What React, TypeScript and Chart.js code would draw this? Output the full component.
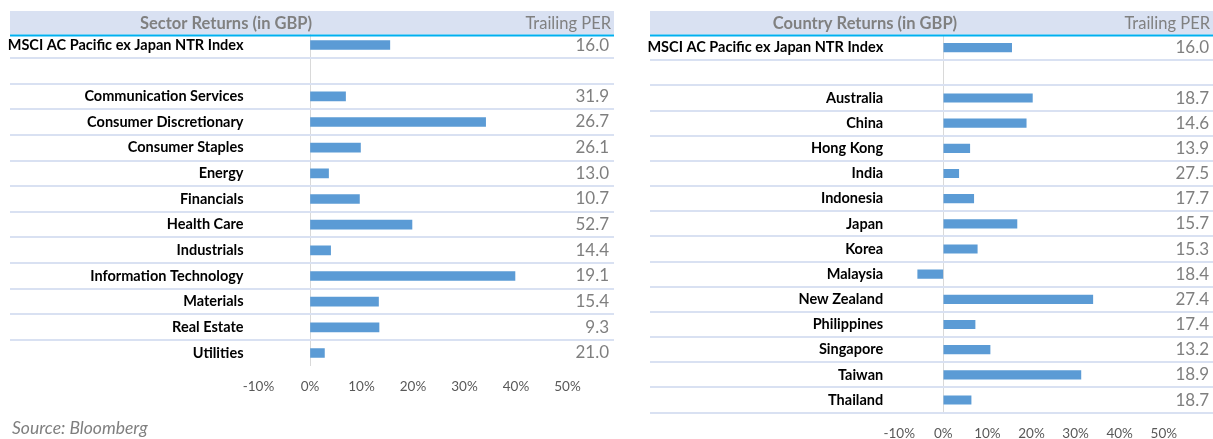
import React, { useEffect, useRef } from 'react';
import { Chart, registerables } from 'chart.js';

Chart.register(...registerables);

// ---------- data ----------
const sectorCategories = [
  'MSCI AC Pacific ex Japan NTR Index',
  '',
  'Communication Services',
  'Consumer Discretionary',
  'Consumer Staples',
  'Energy',
  'Financials',
  'Health Care',
  'Industrials',
  'Information Technology',
  'Materials',
  'Real Estate',
  'Utilities',
];
const sectorReturns: (number | null)[] = [15.5, null, 6.9, 34.1, 9.8, 3.6, 9.6, 19.8, 4.0, 39.8, 13.3, 13.4, 2.8];
const sectorPER = ['16.0', '', '31.9', '26.7', '26.1', '13.0', '10.7', '52.7', '14.4', '19.1', '15.4', '9.3', '21.0'];

const countryCategories = [
  'MSCI AC Pacific ex Japan NTR Index',
  '',
  'Australia',
  'China',
  'Hong Kong',
  'India',
  'Indonesia',
  'Japan',
  'Korea',
  'Malaysia',
  'New Zealand',
  'Philippines',
  'Singapore',
  'Taiwan',
  'Thailand',
];
const countryReturns: (number | null)[] = [15.5, null, 20.2, 18.8, 6.0, 3.5, 6.9, 16.7, 7.7, -5.8, 33.9, 7.2, 10.6, 31.2, 6.3];
const countryPER = ['16.0', '', '18.7', '14.6', '13.9', '27.5', '17.7', '15.7', '15.3', '18.4', '27.4', '17.4', '13.2', '18.9', '18.7'];

const axisTickValues = [-10, 0, 10, 20, 30, 40, 50];

const sectorTitle = 'Sector Returns (in GBP)';
const countryTitle = 'Country Returns (in GBP)';
const perHeader = 'Trailing PER';
const sourceText = 'Source: Bloomberg';

// ---------- styling ----------
const FONT = 'Lato, "Open Sans", sans-serif';
const BAR_COLOR = '#5b9bd5';
const BAND_COLOR = '#d9e1f2';
const SEP_COLOR = '#d9e1f2';
const ACCENT = '#00b0f0';

type Geom = {
  width: number;
  height: number;
  plotLeft: number;
  plotRight: number;
  plotTop: number;
  plotBottom: number;
  labelPad: number;
  perRight: number;
  xTickPad: number;
  bandLeft: number;
  bandRight: number;
  bandTop: number;
  bandBottom: number;
  titleX: number;
  perHeaderX: number;
  barThickness: number;
  lastSeparator: boolean;
  source?: string;
  title: string;
};

const tablePlugin = {
  id: 'tableDecor',
  beforeDatasetsDraw(chart: any, _args: any, opts: any) {
    const ctx = chart.ctx as CanvasRenderingContext2D;
    const y = chart.scales.y;
    const n = opts.count as number;
    const step = y.getPixelForValue(1) - y.getPixelForValue(0);
    ctx.save();
    ctx.strokeStyle = SEP_COLOR;
    ctx.lineWidth = 2;
    const last = opts.lastSeparator ? n : n - 1;
    for (let i = 0; i < last; i++) {
      const py = Math.round(y.getPixelForValue(i) + step / 2);
      ctx.beginPath();
      ctx.moveTo(opts.bandLeft, py);
      ctx.lineTo(opts.bandRight, py);
      ctx.stroke();
    }
    ctx.restore();
  },
  afterDraw(chart: any, _args: any, opts: any) {
    const ctx = chart.ctx as CanvasRenderingContext2D;
    ctx.save();
    ctx.fillStyle = BAND_COLOR;
    ctx.fillRect(opts.bandLeft, opts.bandTop, opts.bandRight - opts.bandLeft, opts.bandBottom - opts.bandTop);
    ctx.strokeStyle = ACCENT;
    ctx.lineWidth = 2;
    ctx.beginPath();
    ctx.moveTo(opts.bandLeft, opts.bandBottom + 1);
    ctx.lineTo(opts.bandRight, opts.bandBottom + 1);
    ctx.stroke();
    const cy = (opts.bandTop + opts.bandBottom) / 2 + 1;
    ctx.textBaseline = 'middle';
    ctx.fillStyle = '#808080';
    ctx.font = `bold 16.5px ${FONT}`;
    ctx.textAlign = 'center';
    ctx.fillText(opts.title, opts.titleX, cy);
    ctx.font = `16.5px ${FONT}`;
    ctx.textAlign = 'right';
    ctx.fillText(perHeader, opts.perHeaderX, cy);
    if (opts.source) {
      ctx.font = `italic 17.5px ${FONT}`;
      ctx.textAlign = 'left';
      ctx.fillStyle = '#7f7f7f';
      ctx.fillText(opts.source, 12, 428);
    }
    ctx.restore();
  },
};

function Panel({
  categories,
  values,
  per,
  geom,
  left,
}: {
  categories: string[];
  values: (number | null)[];
  per: string[];
  geom: Geom;
  left: number;
}) {
  const ref = useRef<HTMLCanvasElement | null>(null);
  useEffect(() => {
    if (!ref.current) return;
    const g = geom;
    const chart = new Chart(ref.current, {
      type: 'bar',
      data: {
        labels: categories,
        datasets: [
          {
            data: values,
            backgroundColor: BAR_COLOR,
            borderWidth: 0,
            barThickness: g.barThickness,
            xAxisID: 'x',
            yAxisID: 'y',
          } as any,
        ],
      },
      plugins: [tablePlugin as any],
      options: {
        indexAxis: 'y',
        animation: false,
        responsive: false,
        maintainAspectRatio: false,
        layout: { padding: { top: g.plotTop, left: 0, right: g.width - g.perRight, bottom: 0 } },
        plugins: {
          legend: { display: false },
          tooltip: { enabled: false },
          title: { display: false },
          tableDecor: {
            count: categories.length,
            lastSeparator: g.lastSeparator,
            bandLeft: g.bandLeft,
            bandRight: g.bandRight,
            bandTop: g.bandTop,
            bandBottom: g.bandBottom,
            titleX: g.titleX,
            perHeaderX: g.perHeaderX,
            title: g.title,
            source: g.source || '',
          },
        } as any,
        scales: {
          x: {
            type: 'linear',
            position: 'bottom',
            min: axisTickValues[0],
            max: axisTickValues[axisTickValues.length - 1],
            afterBuildTicks: (s: any) => {
              s.ticks = axisTickValues.map((v) => ({ value: v }));
            },
            afterFit: (s: any) => {
              s.height = g.height - g.plotBottom;
            },
            border: { display: false },
            grid: {
              drawTicks: false,
              lineWidth: 1,
              color: (c: any) => (c.tick && c.tick.value === 0 ? '#d9d9d9' : 'rgba(0,0,0,0)'),
            },
            ticks: {
              padding: g.xTickPad,
              color: '#595959',
              font: { family: FONT, size: 13.5 },
              maxRotation: 0,
              autoSkip: false,
              callback: (v: any) => `${v}%`,
            },
          },
          y: {
            type: 'category',
            position: 'left',
            offset: true,
            afterFit: (s: any) => {
              s.width = g.plotLeft;
            },
            border: { display: false },
            grid: { display: false, drawTicks: false },
            ticks: {
              padding: g.labelPad,
              color: '#000000',
              autoSkip: false,
              font: { family: FONT, size: 14.5, weight: 'bold' },
            },
          },
          y2: {
            type: 'category',
            position: 'right',
            labels: per,
            offset: true,
            afterFit: (s: any) => {
              s.width = g.perRight - g.plotRight;
            },
            border: { display: false },
            grid: { display: false, drawTicks: false },
            ticks: {
              padding: 0,
              crossAlign: 'far',
              color: '#7f7f7f',
              autoSkip: false,
              font: { family: FONT, size: 17 },
            },
          },
        } as any,
      },
    });
    return () => chart.destroy();
  }, []);
  return (
    <canvas
      ref={ref}
      width={geom.width}
      height={geom.height}
      style={{ position: 'absolute', left, top: 0, width: geom.width, height: geom.height, display: 'block' }}
    />
  );
}

const leftGeom: Geom = {
  width: 620,
  height: 439,
  plotLeft: 258.5,
  plotRight: 567.5,
  plotTop: 32.2,
  plotBottom: 365.8,
  labelPad: 15,
  perRight: 609,
  xTickPad: 13,
  bandLeft: 10,
  bandRight: 614,
  bandTop: 11,
  bandBottom: 34.5,
  titleX: 226,
  perHeaderX: 611,
  barThickness: 9,
  lastSeparator: false,
  source: sourceText,
  title: sectorTitle,
};

const rightGeom: Geom = {
  width: 593,
  height: 439,
  plotLeft: 279.2,
  plotRight: 543.8,
  plotTop: 35.1,
  plotBottom: 412.6,
  labelPad: 16,
  perRight: 589,
  xTickPad: 12.5,
  bandLeft: 30,
  bandRight: 593,
  bandTop: 11,
  bandBottom: 34.5,
  titleX: 245,
  perHeaderX: 590,
  barThickness: 8.5,
  lastSeparator: true,
  title: countryTitle,
};

export default function App() {
  return (
    <div style={{ position: 'absolute', left: 0, top: 0, width: 1213, height: 439, background: '#ffffff', overflow: 'hidden' }}>
      <Panel categories={sectorCategories} values={sectorReturns} per={sectorPER} geom={leftGeom} left={0} />
      <Panel categories={countryCategories} values={countryReturns} per={countryPER} geom={rightGeom} left={620} />
    </div>
  );
}
